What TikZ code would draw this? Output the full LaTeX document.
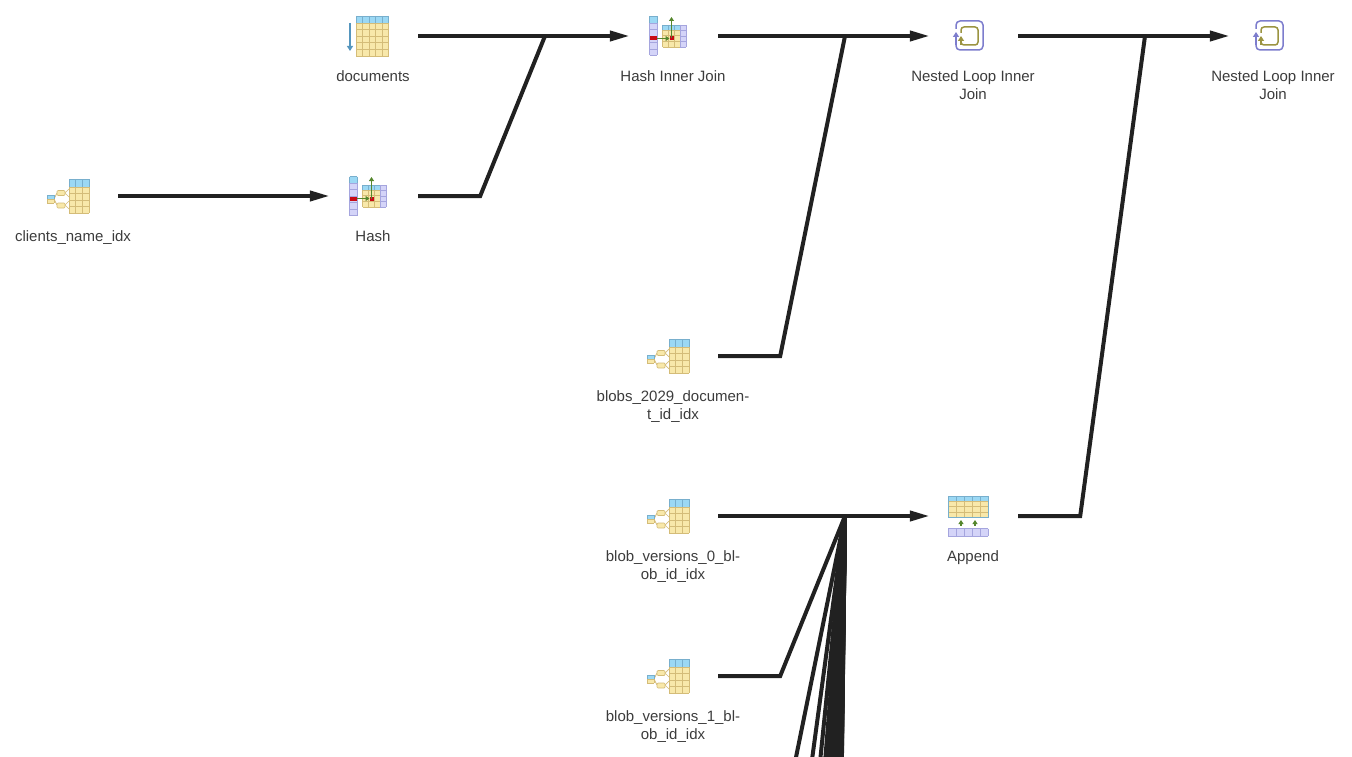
\documentclass[tikz,border=0pt]{standalone}
\usepackage{fontspec}
\setmainfont{Liberation Sans}
\usetikzlibrary{arrows.meta}
\definecolor{edgecol}{RGB}{33,33,33}
\definecolor{textcol}{RGB}{60,60,60}
\definecolor{headfill}{RGB}{155,216,244}
\definecolor{headline}{RGB}{120,175,205}
\definecolor{bodyfill}{RGB}{248,232,170}
\definecolor{bodyline}{RGB}{212,188,120}
\definecolor{lilacfill}{RGB}{212,212,248}
\definecolor{lilacline}{RGB}{165,165,222}
\definecolor{loopblue}{RGB}{125,125,205}
\definecolor{loopolive}{RGB}{155,148,65}
\definecolor{arrowgreen}{RGB}{85,135,45}
\definecolor{scanblue}{RGB}{85,150,190}
\definecolor{hashred}{RGB}{200,10,20}
\newcommand{\cellgrid}[8]{%
  \fill [#7] (#1,#2) rectangle (#3,#4);
  \foreach \k in {0,...,#5} \draw [#8, line width=0.8pt] ({#1+\k*(#3-#1)/#5},#2) -- ({#1+\k*(#3-#1)/#5},#4);
  \foreach \k in {0,...,#6} \draw [#8, line width=0.8pt] (#1,{#2+\k*(#4-#2)/#6}) -- (#3,{#2+\k*(#4-#2)/#6});
}
\tikzset{
  x=1pt, y=-1pt,
  opnode/.style={minimum width=90pt, minimum height=40pt, inner sep=0pt},
  oplabel/.style={align=center, text=textcol, font=\fontsize{15}{18}\selectfont, inner sep=0pt, label distance=14.5pt},
  flow/.style={line width=4pt, draw=edgecol, miter limit=10},
  flowarrow/.style={flow, shorten >=-2pt, -{Stealth[length=20pt, width=10pt, inset=0pt]}},
  smallarrow/.style={line width=1.4pt, -{Stealth[length=4pt, width=5pt, inset=0pt]}},
  pics/scanicon/.style={code={
    \cellgrid{-17}{-20}{15.5}{-13}{5}{1}{headfill}{headline}
    \cellgrid{-17}{-13}{15.5}{20}{5}{5}{bodyfill}{bodyline}
    \draw [smallarrow, scanblue, line width=1.8pt, -{Stealth[length=5pt, width=6pt, inset=0pt]}] (-23,-13) -- (-23,15);
  }},
  pics/indexicon/.style={code={
    \cellgrid{-4}{-17}{16}{-9}{3}{1}{headfill}{headline}
    \cellgrid{-4}{-9}{16}{17}{3}{4}{bodyfill}{bodyline}
    \draw [bodyline, line width=0.7pt] (-19,3) -- (-16,-3) (-19,3) -- (-16,9);
    \draw [bodyline, line width=0.7pt] (-8,-3) -- (-4,-7) (-8,-3) -- (-4,1) (-8,9) -- (-4,5) (-8,9) -- (-4,13);
    \filldraw [fill=bodyfill, draw=bodyline, line width=0.7pt, rounded corners=1pt] (-16,-5.5) rectangle (-8,-0.5);
    \filldraw [fill=bodyfill, draw=bodyline, line width=0.7pt, rounded corners=1pt] (-16,7) rectangle (-8,12);
    \cellgrid{-26}{-1}{-19}{3}{1}{1}{headfill}{headline}
    \cellgrid{-26}{3}{-19}{7}{1}{1}{bodyfill}{bodyline}
  }},
  pics/hashicon/.style={code={
    \cellgrid{-23.5}{-19.5}{-16}{-12.9}{1}{1}{headfill}{headline}
    \cellgrid{-23.5}{-12.9}{-16}{19.5}{1}{5}{lilacfill}{lilacline}
    \cellgrid{-10.5}{-11}{7}{-6}{3}{1}{headfill}{headline}
    \cellgrid{-10.5}{-6}{7}{11}{3}{3}{bodyfill}{bodyline}
    \cellgrid{7}{-11}{13}{11}{1}{4}{lilacfill}{lilacline}
    \fill [hashred] (-23.5,0.5) rectangle (-16,4.5);
    \fill [hashred] (-3.5,0.5) rectangle (0.5,4.5);
    \draw [smallarrow, arrowgreen] (-16,2.5) -- (-3.5,2.5);
    \draw [smallarrow, arrowgreen] (-1.5,2.5) -- (-1.5,-19);
  }},
  pics/loopicon/.style={code={
    \draw [loopblue, line width=1.5pt, rounded corners=4pt] (-17,-7) -- (-17,-15) -- (10,-15) -- (10,14) -- (-17,14) -- (-17,9);
    \draw [smallarrow, loopblue, line width=1.5pt, -{Stealth[length=5pt, width=6pt, inset=0pt]}] (-17,9) -- (-17,-4);
    \draw [loopolive, line width=1.5pt, rounded corners=3pt] (-12,-3) -- (-12,-9) -- (5,-9) -- (5,9) -- (-12,9) -- (-12,6);
    \draw [smallarrow, loopolive, line width=1.5pt, -{Stealth[length=5pt, width=6pt, inset=0pt]}] (-12,9) -- (-12,0);
  }},
  pics/appendicon/.style={code={
    \cellgrid{-25}{-20}{15}{-15}{5}{1}{headfill}{headline}
    \cellgrid{-25}{-15}{15}{1.5}{5}{3}{bodyfill}{bodyline}
    \draw [headline, line width=0.8pt] (-25,-20) rectangle (15,1.5);
    \draw [smallarrow, arrowgreen] (-12,9.5) -- (-12,4);
    \draw [smallarrow, arrowgreen] (2,9.5) -- (2,4);
    \cellgrid{-25}{12.5}{15}{20}{5}{1}{lilacfill}{lilacline}
  }},
}
\begin{document}
\begin{tikzpicture}
\useasboundingbox (0,0) rectangle (1352,757);
\clip (0,0) rectangle (1352,757);

\node [opnode, label={[oplabel]below:documents}] (documents) at (373,36) {};
\node [opnode, label={[oplabel]below:Hash Inner Join}] (hashjoin) at (673,36) {};
\node [opnode, label={[oplabel]below:Nested Loop Inner\\Join}] (loopone) at (973,36) {};
\node [opnode, label={[oplabel]below:Nested Loop Inner\\Join}] (looptwo) at (1273,36) {};
\node [opnode, label={[oplabel]below:clients\_name\_idx}] (clients) at (73,196) {};
\node [opnode, label={[oplabel]below:Hash}] (hash) at (373,196) {};
\node [opnode, label={[oplabel]below:blobs\_2029\_documen-\\t\_id\_idx}] (blobs) at (673,356) {};
\node [opnode, label={[oplabel]below:blob\_versions\_0\_bl-\\ob\_id\_idx}] (versionzero) at (673,516) {};
\node [opnode, label={[oplabel]below:Append}] (append) at (973,516) {};
\node [opnode, label={[oplabel]below:blob\_versions\_1\_bl-\\ob\_id\_idx}] (versionone) at (673,676) {};

\pic at (documents) {scanicon};
\pic at (hashjoin) {hashicon};
\pic at (loopone) {loopicon};
\pic at (looptwo) {loopicon};
\pic at (clients) {indexicon};
\pic at (hash) {hashicon};
\pic at (blobs) {indexicon};
\pic at (versionzero) {indexicon};
\pic at (append) {appendicon};
\pic at (versionone) {indexicon};

\coordinate (mergeone) at (545,36);
\coordinate (mergetwo) at (845,36);
\coordinate (mergethree) at (1145,36);
\coordinate (mergefour) at (845,516);

\draw [flowarrow] (clients.east) -- (hash.west);
\draw [flowarrow] (documents.east) -- (hashjoin.west);
\draw [flowarrow] (hashjoin.east) -- (loopone.west);
\draw [flowarrow] (loopone.east) -- (looptwo.west);
\draw [flowarrow] (versionzero.east) -- (append.west);

\draw [flow] (hash.east) -- +(62,0) -- (mergeone);
\draw [flow] (blobs.east) -- +(62,0) -- (mergetwo);
\draw [flow] (append.east) -- +(62,0) -- (mergethree);
\draw [flow] (versionone.east) -- +(62,0) -- (mergefour);

\foreach \i in {0,...,30}{
  \coordinate (source\i) at (780,{836+160*\i});
  \draw [flow] (source\i) -- (mergefour);
}
\end{tikzpicture}
\end{document}
